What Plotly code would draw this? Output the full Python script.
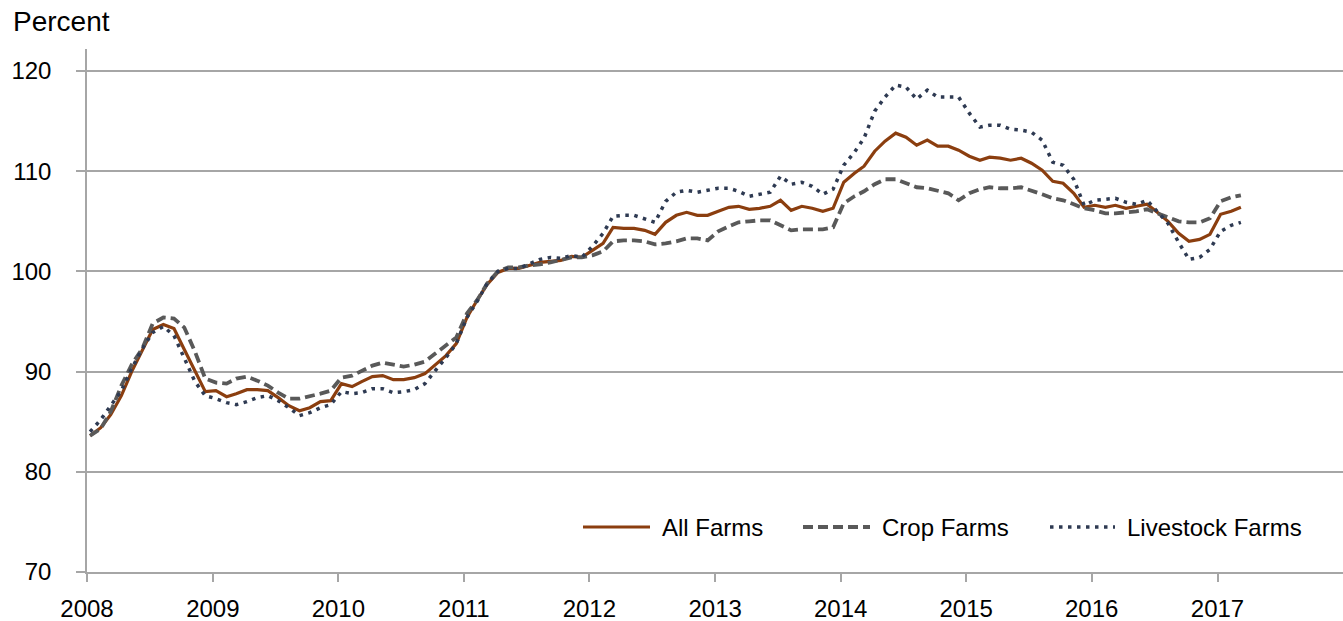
import pandas as pd
import plotly.graph_objects as go

# Monthly observations, Jan 2008 - Mar 2017
months = pd.date_range("2008-01-01", periods=111, freq="MS") + pd.Timedelta(days=9)

all_farms = [
    83.6, 84.4, 85.7, 87.6, 90.0, 92.2, 94.2, 94.7, 94.3, 92.2, 90.0, 88.0,
    88.1, 87.5, 87.8, 88.2, 88.2, 88.1, 87.4, 86.6, 86.1, 86.4, 87.0, 87.1,
    88.8, 88.5, 89.0, 89.5, 89.6, 89.2, 89.2, 89.4, 89.8, 90.7, 91.6, 92.8,
    95.4, 97.2, 98.7, 99.9, 100.3, 100.3, 100.6, 100.9, 101.0, 101.1, 101.5, 101.4,
    102.1, 102.8, 104.4, 104.3, 104.3, 104.1, 103.7, 104.9, 105.6, 105.9, 105.6, 105.6,
    106.0, 106.4, 106.5, 106.2, 106.3, 106.5, 107.1, 106.1, 106.5, 106.3, 106.0, 106.3,
    108.9, 109.8, 110.5, 112.0, 113.0, 113.8, 113.4, 112.6, 113.1, 112.5, 112.5, 112.1,
    111.5, 111.1, 111.4, 111.3, 111.1, 111.3, 110.8, 110.1, 109.0, 108.8, 107.8, 106.4,
    106.6, 106.4, 106.6, 106.3, 106.5, 106.7, 105.9, 105.0, 103.8, 103.0, 103.2, 103.7,
    105.7, 106.0, 106.4,
]

crop_farms = [
    83.6, 84.3, 86.0, 88.6, 90.7, 92.3, 94.8, 95.4, 95.3, 94.4, 92.0, 89.3,
    88.9, 88.8, 89.3, 89.5, 89.1, 88.6, 87.9, 87.3, 87.3, 87.5, 87.8, 88.1,
    89.4, 89.6, 90.1, 90.6, 90.9, 90.7, 90.5, 90.7, 91.0, 91.8, 92.6, 93.4,
    95.8, 97.2, 98.8, 100.0, 100.4, 100.4, 100.6, 100.7, 100.9, 101.1, 101.4, 101.4,
    101.6, 102.0, 103.0, 103.1, 103.1, 103.0, 102.7, 102.8, 103.0, 103.3, 103.3, 103.1,
    104.0, 104.5, 104.9, 105.0, 105.1, 105.1, 104.6, 104.1, 104.2, 104.2, 104.2, 104.4,
    106.8, 107.5, 108.0, 108.7, 109.2, 109.2, 108.8, 108.4, 108.3, 108.1, 107.8, 107.1,
    107.8, 108.2, 108.4, 108.3, 108.3, 108.4, 108.1, 107.7, 107.3, 107.1, 106.7, 106.3,
    106.1, 105.8, 105.8, 105.9, 106.0, 106.2, 105.8, 105.4, 105.0, 104.9, 104.9, 105.3,
    107.0, 107.4, 107.6,
]

livestock_farms = [
    84.0, 85.2, 86.6, 88.1, 90.3, 92.3, 93.9, 94.5, 93.6, 91.3, 89.0, 87.6,
    87.3, 86.9, 86.7, 87.0, 87.4, 87.6, 87.1, 86.4, 85.6, 85.9, 86.4, 86.7,
    88.0, 87.8, 87.9, 88.3, 88.3, 87.9, 88.0, 88.2, 88.8, 90.1, 91.4, 92.8,
    95.4, 97.1, 98.8, 100.0, 100.3, 100.3, 100.7, 101.2, 101.4, 101.3, 101.6, 101.4,
    102.5, 103.8, 105.5, 105.6, 105.6, 105.2, 104.9, 107.0, 107.9, 108.1, 107.9, 108.1,
    108.3, 108.3, 108.0, 107.5, 107.7, 107.9, 109.5, 108.7, 108.9, 108.5, 107.7, 108.2,
    110.6, 111.9, 113.3, 116.0, 117.4, 118.6, 118.4, 117.2, 118.1, 117.4, 117.4, 117.4,
    115.8, 114.4, 114.6, 114.6, 114.2, 114.1, 113.9, 113.1, 110.9, 110.6, 109.2, 106.6,
    107.1, 107.2, 107.3, 106.9, 106.7, 107.1, 106.0, 104.8, 102.9, 101.2, 101.4, 102.2,
    104.0, 104.6, 104.9,
]

series_names = ["All Farms", "Crop Farms", "Livestock Farms"]
year_ticks = [f"{y}-01-01" for y in range(2008, 2018)]
year_labels = [str(y) for y in range(2008, 2018)]
y_ticks = [70, 80, 90, 100, 110, 120]

FONT = "Liberation Sans, Arial, sans-serif"
GRID = "#A6A6A6"
styles = [
    dict(color="#8B3E0F", width=3.2, dash="solid"),
    dict(color="#595959", width=3.8, dash="10px,5px"),
    dict(color="#2E3A52", width=3.5, dash="3.5px,5.5px"),
]

W, H = 1343, 621
ML, MR, MT, MB = 87, 0, 49, 49
PW, PH = W - ML - MR, H - MT - MB

fig = go.Figure()
for name, vals, st in zip(series_names, [all_farms, crop_farms, livestock_farms], styles):
    fig.add_trace(go.Scatter(x=months, y=vals, name=name, mode="lines", line=st,
                             showlegend=False))

# Legend drawn inside the plot area (bottom right), Excel-style long samples
legend_y_px = 527
legend_items = [(583, 650, 660), (803, 870, 880), (1050, 1115, 1125)]
shapes, annotations = [], []
ly = (H - MB - legend_y_px) / PH
for (x0, x1, xt), name, st in zip(legend_items, series_names, styles):
    shapes.append(dict(type="line", xref="paper", yref="paper",
                       x0=(x0 - ML) / PW, x1=(x1 - ML) / PW, y0=ly, y1=ly, line=st))
    annotations.append(dict(text=name, xref="paper", yref="paper", x=(xt - ML) / PW, y=ly,
                            xanchor="left", yanchor="middle", showarrow=False,
                            font=dict(size=24, color="black")))

annotations.append(dict(text="Percent", xref="paper", yref="paper",
                        x=(11 - ML) / PW, y=(H - MB - 21) / PH,
                        xanchor="left", yanchor="middle", showarrow=False,
                        font=dict(size=28, color="black")))

fig.update_layout(
    width=W, height=H,
    margin=dict(l=ML, r=MR, t=MT, b=MB),
    paper_bgcolor="white", plot_bgcolor="white",
    font=dict(family=FONT, size=24, color="black"),
    showlegend=False,
    shapes=shapes,
    annotations=annotations,
)
fig.update_xaxes(
    type="date", range=["2008-01-01", "2018-01-01"],
    tickmode="array", tickvals=year_ticks, ticktext=year_labels,
    showgrid=False, showline=True, linecolor=GRID, linewidth=1.5,
    ticks="outside", ticklen=8, tickcolor=GRID, tickwidth=1.5,
    tickfont=dict(size=24), ticklabelstandoff=6,
)
fig.update_yaxes(
    range=[70, 122.2], tickmode="array", tickvals=y_ticks,
    showgrid=True, gridcolor=GRID, gridwidth=1.5, zeroline=False,
    showline=True, linecolor=GRID, linewidth=1.5,
    ticks="outside", ticklen=9, tickcolor=GRID, tickwidth=1.5,
    tickfont=dict(size=24), ticklabelstandoff=20,
)

fig.write_html("out.html",
               config={"displayModeBar": False},
               post_script="document.body.style.margin='0';"
                           "document.documentElement.style.overflow='hidden';")
